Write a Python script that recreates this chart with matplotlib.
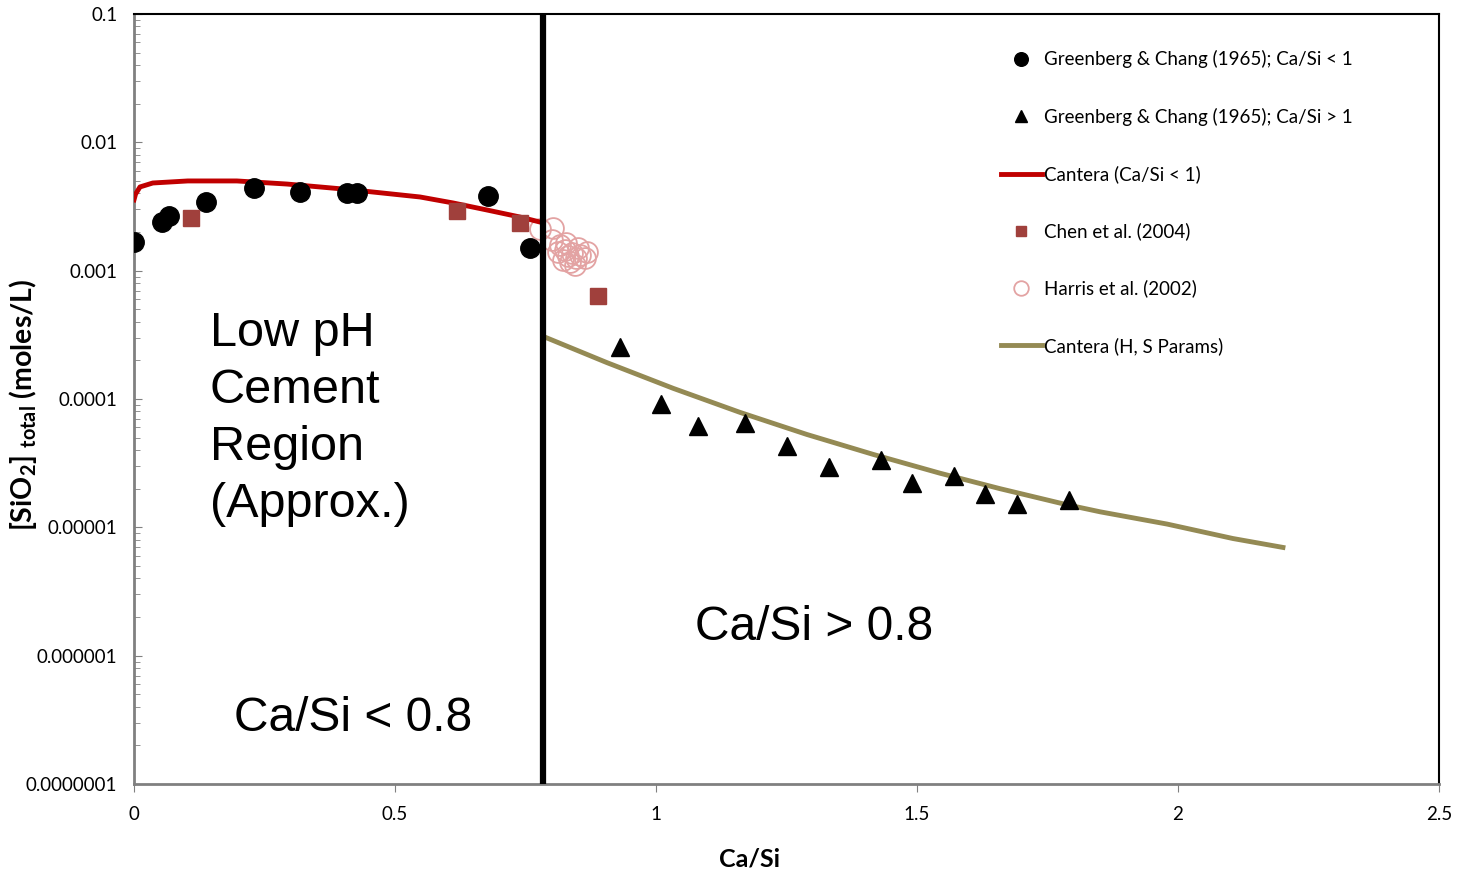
import matplotlib
matplotlib.use("Agg")
import matplotlib.pyplot as plt

### Données ###
gc_lo_x = [0.0, 0.054, 0.067, 0.138, 0.23, 0.318, 0.408, 0.427, 0.678, 0.759]
gc_lo_y = [1.67e-3, 2.39e-3, 2.67e-3, 3.43e-3, 4.41e-3, 4.10e-3, 4.03e-3, 4.03e-3, 3.82e-3, 1.50e-3]

gc_hi_x = [0.931, 1.010, 1.080, 1.170, 1.251, 1.331, 1.431, 1.490, 1.571, 1.630, 1.692, 1.791]
gc_hi_y = [2.54e-4, 9.14e-5, 6.16e-5, 6.50e-5, 4.31e-5, 2.95e-5, 3.35e-5, 2.22e-5, 2.51e-5, 1.82e-5, 1.52e-5, 1.63e-5]

chen_x = [0.109, 0.619, 0.739, 0.889]
chen_y = [2.57e-3, 2.92e-3, 2.35e-3, 6.35e-4]

harris_x = [0.778, 0.803, 0.801, 0.816, 0.826, 0.831, 0.839, 0.847, 0.854, 0.864,
            0.835, 0.845, 0.822, 0.851, 0.812, 0.868, 0.828]
harris_y = [2.11e-3, 2.15e-3, 1.73e-3, 1.59e-3, 1.45e-3, 1.30e-3, 1.37e-3, 1.26e-3, 1.33e-3, 1.26e-3,
            1.17e-3, 1.11e-3, 1.21e-3, 1.50e-3, 1.40e-3, 1.40e-3, 1.64e-3]

cant_lo_x = [0.0, 0.003, 0.0115, 0.036, 0.103, 0.197, 0.293, 0.419, 0.548, 0.611, 0.676, 0.739, 0.778]
cant_lo_y = [3.56e-3, 3.95e-3, 4.49e-3, 4.82e-3, 5.00e-3, 5.00e-3, 4.73e-3, 4.26e-3, 3.75e-3,
             3.37e-3, 2.97e-3, 2.62e-3, 2.39e-3]

cant_hs_x = [0.791, 0.906, 1.033, 1.161, 1.289, 1.416, 1.544, 1.659, 1.787, 1.851, 1.979, 2.105, 2.201]
cant_hs_y = [2.99e-4, 1.92e-4, 1.21e-4, 7.86e-5, 5.29e-5, 3.70e-5, 2.64e-5, 2.00e-5,
             1.50e-5, 1.32e-5, 1.06e-5, 8.18e-6, 6.97e-6]

limite = 0.783
ytick_vals = [1e-7, 1e-6, 1e-5, 1e-4, 1e-3, 1e-2, 1e-1]
ytick_txt = ["0.0000001", "0.000001", "0.00001", "0.0001", "0.001", "0.01", "0.1"]
xtick_vals = [0, 0.5, 1, 1.5, 2, 2.5]
xtick_txt = ["0", "0.5", "1", "1.5", "2", "2.5"]

plt.rcParams['font.family'] = ['Lato', 'DejaVu Sans']
plt.rcParams['mathtext.fontset'] = 'custom'
plt.rcParams['mathtext.rm'] = 'Lato'
plt.rcParams['mathtext.bf'] = 'Lato:bold'

fig = plt.figure(figsize=(14.58, 8.74), dpi=100)
ax = fig.add_axes([0.0919, 0.103, 0.8951, 0.881])

ax.plot(gc_lo_x, gc_lo_y, 'o', color='black', ms=14, label="Greenberg & Chang (1965); Ca/Si < 1", zorder=4)
ax.plot(gc_hi_x, gc_hi_y, '^', color='black', ms=13, label="Greenberg & Chang (1965); Ca/Si > 1", zorder=4)
ax.plot(cant_lo_x, cant_lo_y, '-', color='#C00000', lw=3.5, label="Cantera (Ca/Si < 1)", zorder=3)
ax.plot(chen_x, chen_y, 's', color='#A0403C', ms=11, label="Chen et al. (2004)", zorder=5)
ax.plot(harris_x, harris_y, 'o', mfc='none', mec='#E3A3A3', mew=1.3, ms=15, label="Harris et al. (2002)", zorder=2)
ax.plot(cant_hs_x, cant_hs_y, '-', color='#948A54', lw=3.5, label="Cantera (H, S Params)", zorder=3)

ax.axvline(limite, color='black', lw=4.5, zorder=6)

ax.set_yscale('log')
ax.set_xlim(0, 2.5)
ax.set_ylim(1e-7, 1e-1)
ax.set_yticks(ytick_vals)
ax.set_yticklabels(ytick_txt)
ax.set_xticks(xtick_vals)
ax.set_xticklabels(xtick_txt)
ax.tick_params(axis='y', which='major', direction='in', length=6, color='#808080', labelsize=13.5, pad=12)
ax.tick_params(axis='y', which='minor', direction='in', length=4, color='#808080')
ax.tick_params(axis='x', which='major', direction='out', length=6, color='#808080', labelsize=13.5, pad=10)
ax.tick_params(axis='x', which='minor', bottom=False)

for s in ['left', 'bottom']:
    ax.spines[s].set_color('#808080')
    ax.spines[s].set_linewidth(2)
for s in ['top', 'right']:
    ax.spines[s].set_color('black')
    ax.spines[s].set_linewidth(1.5)

ax.set_xlabel("Ca/Si", fontsize=18, fontweight='bold')
ax.xaxis.set_label_coords(0.472, -0.082)
ax.set_ylabel(r"[SiO$_\mathbf{2}$] $_\mathbf{total}$ (moles/L)", fontsize=20.5, fontweight='bold')
ax.yaxis.set_label_coords(-0.073, 0.492)

ax.text(0.058, 0.614, "Low pH\nCement\nRegion\n(Approx.)", transform=ax.transAxes,
        family='Liberation Sans', fontsize=35, va='top', ha='left', linespacing=1.345)
ax.text(0.521, 0.203, "Ca/Si > 0.8", transform=ax.transAxes, family='Liberation Sans',
        fontsize=34.5, va='center', ha='center')
ax.text(0.168, 0.085, "Ca/Si < 0.8", transform=ax.transAxes, family='Liberation Sans',
        fontsize=34.5, va='center', ha='center')

ax.legend(loc='upper left', bbox_to_anchor=(0.657, 0.965), frameon=False, fontsize=13.5,
          labelspacing=2.1, handlelength=2.2, handletextpad=0.1, markerscale=0.7, borderpad=0)

fig.savefig("out.png", dpi=100)
